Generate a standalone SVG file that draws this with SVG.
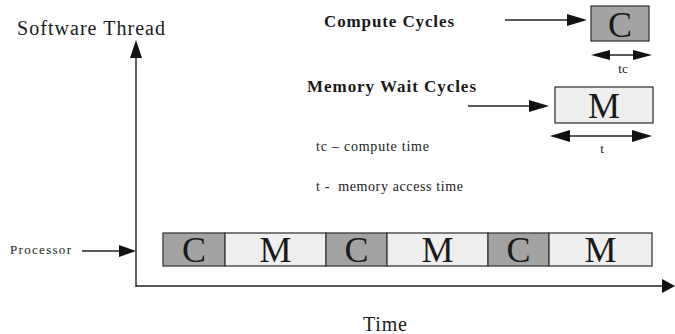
<svg xmlns="http://www.w3.org/2000/svg" width="675" height="334" viewBox="0 0 675 334">
<style>
  text { font-family: "Liberation Serif", "Times New Roman", serif; fill: #1a1a1a; }
  .big { font-size: 36px; text-anchor: middle; }
  .lbl { font-size: 13px; }
  .note { font-size: 14px; }
  .bold { font-size: 17px; font-weight: bold; }
  .c { fill: #a3a3a3; stroke: #3a3a3a; stroke-width: 1.3; }
  .m { fill: #efefef; stroke: #3a3a3a; stroke-width: 1.3; }
  .ln { stroke: #222; stroke-width: 1.4; fill: none; }
  .hd { fill: #111; }
</style>
<rect width="675" height="334" fill="#ffffff"/>

<g id="connectors">
  <!-- y axis -->
  <line class="ln" x1="136" y1="287" x2="136" y2="52"/>
  <polygon class="hd" points="136,40 130,58 142,58"/>
  <!-- x axis -->
  <line class="ln" x1="136" y1="286" x2="664" y2="286"/>
  <polygon class="hd" points="675,286 662,279 662,293"/>
  <!-- processor arrow -->
  <line class="ln" x1="82" y1="251" x2="122" y2="251"/>
  <polygon class="hd" points="136,251 119,245 119,257"/>
  <!-- compute arrow -->
  <line class="ln" x1="505" y1="20" x2="570" y2="20"/>
  <polygon class="hd" points="587,20 567,14 567,26"/>
  <!-- memory arrow -->
  <line class="ln" x1="468" y1="106" x2="532" y2="106"/>
  <polygon class="hd" points="549,106 529,100 529,112"/>
  <!-- tc dimension -->
  <line class="ln" x1="605" y1="55" x2="638" y2="55"/>
  <polygon class="hd" points="591,55 610,50 610,60"/>
  <polygon class="hd" points="652,55 633,50 633,60"/>
  <!-- t dimension -->
  <line class="ln" x1="565" y1="136" x2="638" y2="136"/>
  <polygon class="hd" points="550,136 570,130 570,142"/>
  <polygon class="hd" points="652,136 632,130 632,142"/>
</g>

<g id="axis-labels">
  <text x="17" y="35" font-size="20" textLength="148" lengthAdjust="spacing">Software Thread</text>
  <text x="363" y="331" font-size="20" textLength="44" lengthAdjust="spacing">Time</text>
  <text class="lbl" x="10" y="254" textLength="61" lengthAdjust="spacing">Processor</text>
</g>

<g id="legend-compute">
  <text class="bold" x="324" y="27" textLength="130" lengthAdjust="spacing">Compute Cycles</text>
  <rect class="c" x="591" y="6" width="58" height="35"/>
  <text class="big" x="620" y="37">C</text>
  <text class="lbl" x="623" y="73" text-anchor="middle" font-size="12">tc</text>
</g>

<g id="legend-memory">
  <text class="bold" x="307" y="92" textLength="169" lengthAdjust="spacing">Memory Wait Cycles</text>
  <rect class="m" x="555" y="87" width="98" height="36"/>
  <text class="big" x="604" y="118">M</text>
  <text class="lbl" x="602" y="153" text-anchor="middle">t</text>
</g>

<g id="notes">
  <text class="note" x="316" y="151" textLength="113" lengthAdjust="spacing">tc – compute time</text>
  <text class="note" x="316" y="191" textLength="147" lengthAdjust="spacing" xml:space="preserve">t -  memory access time</text>
</g>

<g id="processor-bar">
  <g id="seg1"><rect class="c" x="163" y="233" width="62" height="33"/><text class="big" x="194" y="262">C</text></g>
  <g id="seg2"><rect class="m" x="225" y="233" width="101" height="33"/><text class="big" x="275.5" y="262">M</text></g>
  <g id="seg3"><rect class="c" x="326" y="233" width="61" height="33"/><text class="big" x="356.5" y="262">C</text></g>
  <g id="seg4"><rect class="m" x="387" y="233" width="101" height="33"/><text class="big" x="437.5" y="262">M</text></g>
  <g id="seg5"><rect class="c" x="488" y="233" width="61" height="33"/><text class="big" x="518.5" y="262">C</text></g>
  <g id="seg6"><rect class="m" x="549" y="233" width="103" height="33"/><text class="big" x="600.5" y="262">M</text></g>
</g>
</svg>
